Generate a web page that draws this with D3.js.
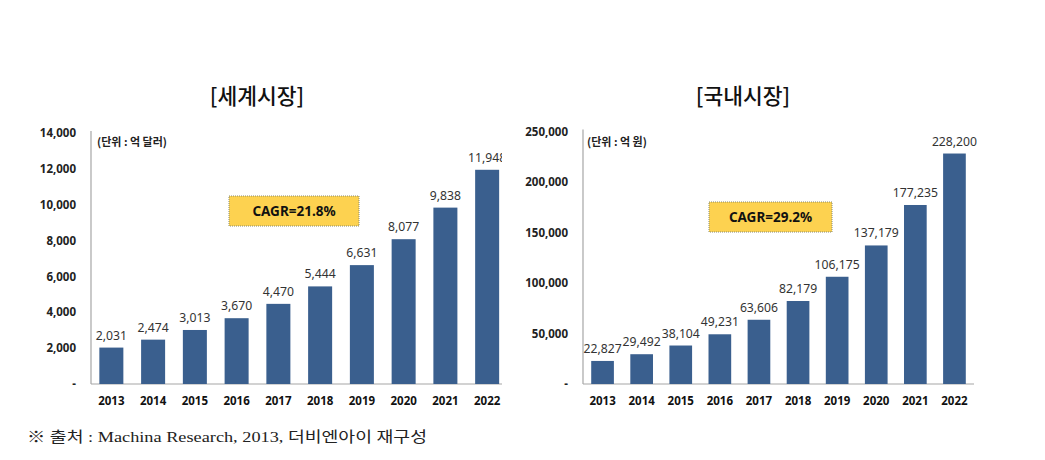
<!DOCTYPE html>
<html><head><meta charset="utf-8">
<script src="https://cdn.jsdelivr.net/npm/d3@7"></script>
<style>body{margin:0;background:#fff}svg{display:block}</style>
</head><body>
<script>
const years = ["2013","2014","2015","2016","2017","2018","2019","2020","2021","2022"];
const worldValues = [2031,2474,3013,3670,4470,5444,6631,8077,9838,11948];
const domesticValues = [22827,29492,38104,49231,63606,82179,106175,137179,177235,228200];
const worldTicks = [0,2000,4000,6000,8000,10000,12000,14000];
const domesticTicks = [0,50000,100000,150000,200000,250000];
const titles = ["[세계시장]","[국내시장]"];
const units = ["(단위 : 억 달러)","(단위 : 억 원)"];
const cagrLabels = ["CAGR=21.8%","CAGR=29.2%"];
const source = "※ 출처 : Machina Research, 2013, 더비엔아이 재구성";

const W = 1045, H = 460;
const svg = d3.select("body").append("svg").attr("width",W).attr("height",H);
const fmt = d3.format(",");
const sans = "'Noto Sans','Noto Sans CJK KR',sans-serif";

const panels = [
  {values: worldValues, ticks: worldTicks, max: 14000, x0: 91, x1: 502, bandEnd: 507.5, pi: 0.425, po: 0.2,
   yTop: 133, yBase: 384, titleX: 257, tickRight: 76, unitX: 97, box: [229,196,130,30], clipRight: 502},
  {values: domesticValues, ticks: domesticTicks, max: 250000, x0: 583, x1: 974, bandEnd: 974, pi: 0.42, po: 0.21,
   yTop: 131.5, yBase: 384, titleX: 743, tickRight: 568, unitX: 587, box: [709,202,123,30], clipRight: 1045}
];

panels.forEach((p,i)=>{
  const g = svg.append("g");
  const x = d3.scaleBand().domain(years).range([p.x0,p.bandEnd]).paddingInner(p.pi).paddingOuter(p.po);
  const y = d3.scaleLinear().domain([0,p.max]).range([p.yBase,p.yTop]);

  // title
  g.append("text").attr("x",p.titleX).attr("y",104).attr("text-anchor","middle")
    .attr("font-family","'Noto Sans CJK KR',sans-serif").attr("font-weight",500).attr("font-size",21.5).attr("fill","#111")
    .text(titles[i]);

  // y tick labels
  const yAxis = d3.axisLeft(y).tickValues(p.ticks).tickSize(0).tickPadding(0)
    .tickFormat(d=> d===0 ? "-" : fmt(d));
  const ya = g.append("g").attr("transform",`translate(${p.tickRight},0)`).call(yAxis);
  ya.select(".domain").remove();
  ya.selectAll("text").attr("font-family",sans).attr("font-weight","bold").attr("font-size",11.5).attr("fill","#222");

  // axis lines
  g.append("line").attr("x1",p.x0).attr("x2",p.x0).attr("y1",p.yTop-2).attr("y2",p.yBase).attr("stroke","#a6a6a6").attr("stroke-width",1.2);
  g.append("line").attr("x1",p.x0).attr("x2",p.x1).attr("y1",p.yBase).attr("y2",p.yBase).attr("stroke","#a6a6a6").attr("stroke-width",1.2);

  // x labels
  const xAxis = d3.axisBottom(x).tickSize(0).tickPadding(0);
  const xa = g.append("g").attr("transform",`translate(0,${p.yBase+13})`).call(xAxis);
  xa.select(".domain").remove();
  xa.selectAll("text").attr("font-family",sans).attr("font-weight","bold").attr("font-size",11.5).attr("fill","#111");

  // bars
  g.selectAll("rect.bar").data(p.values).enter().append("rect").attr("class","bar")
    .attr("x",(d,k)=>x(years[k])).attr("width",x.bandwidth())
    .attr("y",d=>y(d)).attr("height",d=>p.yBase-y(d)).attr("fill","#3a5f8e");

  // value labels (clipped)
  const cid = "clip"+i;
  svg.append("clipPath").attr("id",cid).append("rect").attr("x",0).attr("y",0).attr("width",p.clipRight).attr("height",H);
  g.append("g").attr("clip-path",`url(#${cid})`).selectAll("text").data(p.values).enter().append("text")
    .attr("x",(d,k)=>x(years[k])+x.bandwidth()/2).attr("y",d=>y(d)-8)
    .attr("text-anchor","middle").attr("font-family",sans).attr("font-size",12.2).attr("fill","#333")
    .text(d=>fmt(d));

  // unit
  g.append("text").attr("x",p.unitX).attr("y",146).attr("font-family","'Noto Sans CJK KR',sans-serif")
    .attr("font-weight","bold").attr("font-size",11).attr("fill","#222").text(units[i]);

  // CAGR box
  const [bx,by,bw,bh] = p.box;
  g.append("rect").attr("x",bx).attr("y",by).attr("width",bw).attr("height",bh)
    .attr("fill","#fdd250").attr("stroke","#8a8a6a").attr("stroke-width",1).attr("stroke-dasharray","1,1");
  g.append("text").attr("x",bx+bw/2).attr("y",by+bh/2+5).attr("text-anchor","middle")
    .attr("font-family",sans).attr("font-weight","bold").attr("font-size",13.5).attr("fill","#111")
    .text(cagrLabels[i]);
});

svg.append("text").attr("x",27).attr("y",442).attr("font-family","'Liberation Serif','Noto Sans CJK KR',serif")
  .attr("font-size",15).attr("fill","#222").attr("textLength",400).attr("lengthAdjust","spacingAndGlyphs")
  .text(source);
</script>
</body></html>
